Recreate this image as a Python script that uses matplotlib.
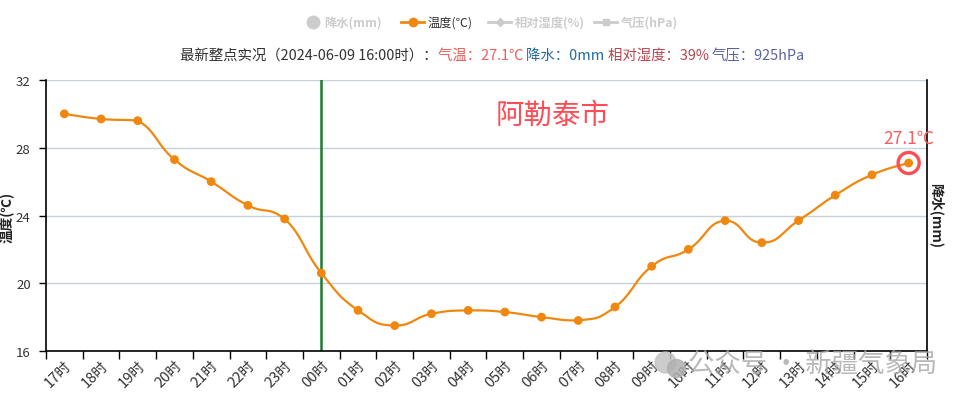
import numpy as np
import matplotlib.pyplot as plt
from matplotlib.lines import Line2D

plt.rcParams['font.family'] = ['Noto Sans CJK SC', 'DejaVu Sans']

hours = ["17时", "18时", "19时", "20时", "21时", "22时", "23时", "00时",
         "01时", "02时", "03时", "04时", "05时", "06时", "07时", "08时",
         "09时", "10时", "11时", "12时", "13时", "14时", "15时", "16时"]
temps = [30.0, 29.7, 29.6, 27.3, 26.0, 24.6, 23.8, 20.6,
         18.4, 17.5, 18.2, 18.4, 18.3, 18.0, 17.8, 18.6,
         21.0, 22.0, 23.7, 22.4, 23.7, 25.2, 26.4, 27.1]
yticks = [16, 20, 24, 28, 32]
day_mark = "00时"
city = "阿勒泰市"

ORANGE = '#f0870f'


def smooth(x, y, s=0.5, n=20):
    # cubic bezier through points, control points clamped like echarts
    x = np.asarray(x, float)
    y = np.asarray(y, float)
    xs, ys = [], []
    for i in range(len(x) - 1):
        p0 = np.array([x[max(i - 1, 0)], y[max(i - 1, 0)]])
        p1 = np.array([x[i], y[i]])
        p2 = np.array([x[i + 1], y[i + 1]])
        p3 = np.array([x[min(i + 2, len(x) - 1)], y[min(i + 2, len(x) - 1)]])
        c1 = p1 + (p2 - p0) * s / 2
        c2 = p2 - (p3 - p1) * s / 2
        lo, hi = min(p1[1], p2[1]), max(p1[1], p2[1])
        c1[1] = np.clip(c1[1], lo, hi)
        c2[1] = np.clip(c2[1], lo, hi)
        t = np.linspace(0, 1, n)[:, None]
        pts = ((1 - t) ** 3) * p1 + 3 * ((1 - t) ** 2) * t * c1 + 3 * (1 - t) * t ** 2 * c2 + t ** 3 * p2
        xs.extend(pts[:, 0])
        ys.extend(pts[:, 1])
    return np.array(xs), np.array(ys)


fig = plt.figure(figsize=(9.57, 4.02), dpi=100)
ax = fig.add_axes([46 / 957, 50 / 402, 881 / 957, 271 / 402])

x = np.arange(len(hours))
sx, sy = smooth(x, temps)
ax.plot(sx, sy, color=ORANGE, lw=1.6, zorder=3)
ax.scatter(x, temps, s=40, color=ORANGE, zorder=4, edgecolors='none')

# latest point highlight
ax.scatter([x[-1]], [temps[-1]], s=230, facecolors='none',
           edgecolors='#ff4d55', linewidths=2.4, zorder=5)
ax.annotate(f"{temps[-1]}℃", (x[-1], temps[-1]), xytext=(0, 12),
            textcoords='offset points', ha='center', va='bottom',
            color='#ff5a5f', fontsize=12.5)

ax.axvline(hours.index(day_mark), color='#1e7b30', lw=1.8, zorder=2)

ax.set_xlim(-0.5, len(hours) - 0.5)
ax.set_ylim(16, 32)
ax.set_yticks(yticks)
ax.yaxis.grid(True, color='#c5d2da', lw=1)
ax.set_axisbelow(True)

ax.set_xticks(x)
ax.set_xticklabels(hours, rotation=45, ha='right', va='top',
                   rotation_mode='anchor', fontsize=10.5, color='#333333')
ax.set_xticks(np.arange(-0.5, len(hours)), minor=True)
ax.tick_params(axis='x', which='major', length=0, pad=5)
ax.tick_params(axis='x', which='minor', length=6, width=1, color='black')
ax.tick_params(axis='y', length=5, width=1, labelsize=9.5, labelcolor='#333333', pad=6)

ax.spines['top'].set_visible(False)
for sp in ['left', 'right', 'bottom']:
    ax.spines[sp].set_color('black')
    ax.spines[sp].set_linewidth(1.2)

fig.text(8 / 957, 1 - 217 / 402, "温度(℃)", rotation=90, ha='center', va='center',
         fontsize=9.8, fontweight='bold', color='#222222')
fig.text(936 / 957, 1 - 216 / 402, "降水(mm)", rotation=-90, ha='center', va='center',
         fontsize=10, fontweight='bold', color='#222222')

fig.text(553 / 957, 1 - 116 / 402, city, ha='center', va='center',
         fontsize=20.5, color='#ff4d55')

# legend
ly = 1 - 23 / 402
gray = '#cccccc'


def mark(xs, **kw):
    fig.add_artist(Line2D(xs, [ly] * len(xs), transform=fig.transFigure, **kw))


mark([313 / 957], marker='o', markersize=9, color=gray)
fig.text(324 / 957, ly, "降水(mm)", va='center', fontsize=8.8, color=gray, fontweight='bold')
mark([401 / 957, 424 / 957], color=ORANGE, lw=2)
mark([412.5 / 957], marker='o', markersize=6, color=ORANGE)
fig.text(428 / 957, ly, "温度(℃)", va='center', fontsize=8.8, color='#333333')
mark([488 / 957, 511 / 957], color=gray, lw=2)
mark([499.5 / 957], marker='D', markersize=4, color=gray)
fig.text(515 / 957, ly, "相对湿度(%)", va='center', fontsize=8.8, color=gray, fontweight='bold')
mark([594 / 957, 617 / 957], color=gray, lw=2)
mark([605.5 / 957], marker='s', markersize=5, color=gray)
fig.text(621 / 957, ly, "气压(hPa)", va='center', fontsize=8.8, color=gray, fontweight='bold')

# subtitle, pieces of different colour
parts = [("最新整点实况（2024-06-09 16:00时）：", '#333333'),
         ("气温：27.1℃ ", '#e8605a'),
         ("降水：0mm ", '#1f6a9a'),
         ("相对湿度：39% ", '#b8464f'),
         ("气压：925hPa", '#5b62a3')]
fig.canvas.draw()
r = fig.canvas.get_renderer()
xpos = 180
for txt, col in parts:
    t = fig.text(xpos / 957, 1 - 56 / 402, txt, va='center', fontsize=10.4, color=col)
    xpos += t.get_window_extent(r).width

# watermark
wy = 1 - 366 / 402
fig.add_artist(Line2D([665 / 957], [wy + 3 / 402], marker='o', markersize=15, color='#c4c4c4',
                      alpha=0.85, transform=fig.transFigure))
fig.add_artist(Line2D([676 / 957], [wy - 3 / 402], marker='o', markersize=13, color='#b0b0b0',
                      alpha=0.85, transform=fig.transFigure))
fig.text(688 / 957, 1 - 364 / 402, "公众号 · 新疆气象局", va='center', fontsize=19,
         color='#a8a8a8', alpha=0.8)

fig.savefig("out.png", dpi=100)
